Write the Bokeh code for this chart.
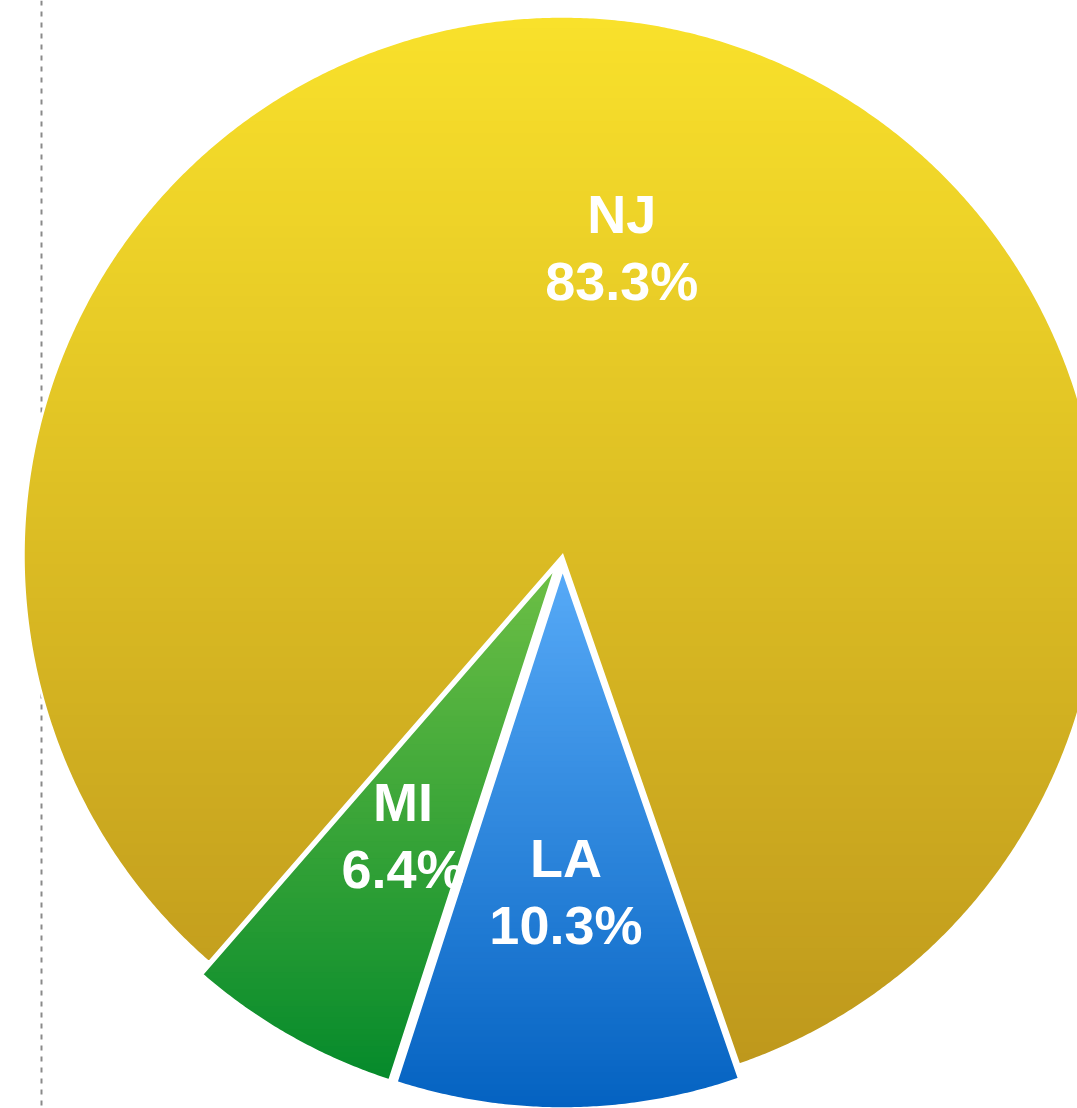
import numpy as np
from bokeh.plotting import figure
from bokeh.models import Range1d, Span, ColumnDataSource
from bokeh.core.properties import value
from bokeh.embed import file_html
from bokeh.resources import INLINE

# ---------------- data ----------------
states = ["NJ", "LA", "MI"]
shares = [83.3, 10.3, 6.4]
sliced = [False, True, True]

# ---------------- style / layout ----------------
top_colors = ["#F9E12B", "#57AAF7", "#6DBF45"]
bottom_colors = ["#BE981C", "#0462C1", "#058A2B"]
R = 539.0                 # pie radius (px)
START_DEG = 221.0         # clockwise from 12 o'clock
SLICE_OFFSET = 14.0
LABEL_R = [0.58, 0.60, 0.575]
FONT_SIZE = "54px"
W, H = 1077, 1108
CX, CY = 562, 555          # pie centre in picture pixels
N_LEVELS = 90


def hex2rgb(h):
    h = h.lstrip("#")
    return np.array([int(h[i:i + 2], 16) for i in (0, 2, 4)], dtype=float)


def mix(c1, c2, f):
    a, b = hex2rgb(c1), hex2rgb(c2)
    c = a + (b - a) * f
    return "#%02x%02x%02x" % tuple(int(round(v)) for v in c)


def clip_below(xs, ys, t):
    ox, oy = [], []
    n = len(xs)
    for i in range(n):
        x1, y1 = xs[i], ys[i]
        x2, y2 = xs[(i + 1) % n], ys[(i + 1) % n]
        in1, in2 = y1 <= t, y2 <= t
        if in1:
            ox.append(x1)
            oy.append(y1)
        if in1 != in2:
            f = (t - y1) / (y2 - y1)
            ox.append(x1 + f * (x2 - x1))
            oy.append(t)
    return ox, oy


p = figure(width=W, height=H,
           x_range=Range1d(-CX, W - CX),
           y_range=Range1d(CY - H, CY),
           output_backend="svg", toolbar_location=None,
           x_axis_location=None, y_axis_location=None,
           min_border=0, title=None)
p.grid.visible = False
p.outline_line_color = None
p.background_fill_color = "white"
p.border_fill_color = "white"

# dotted vertical line behind the pie
p.add_layout(Span(location=41 - CX, dimension="height", line_color="#8a8a8a",
                  line_width=2, line_dash="5 6", level="underlay"))

total = float(sum(shares))
a0 = START_DEG
outline_xs, outline_ys = [], []
label_x, label_y = [], []
for i, (st, sh) in enumerate(zip(states, shares)):
    span = 360.0 * sh / total
    a1 = a0 + span
    mid = np.radians((a0 + a1) / 2.0)
    off = SLICE_OFFSET if sliced[i] else 0.0
    cx, cy = off * np.sin(mid), off * np.cos(mid)
    th = np.radians(np.linspace(a0, a1, max(30, int(span * 3))))
    xs = [cx] + list(cx + R * np.sin(th))
    ys = [cy] + list(cy + R * np.cos(th))
    top, bot = max(ys), min(ys)
    fx, fy, fc = [], [], []
    for k in range(N_LEVELS):
        t = top - (top - bot) * k / N_LEVELS
        if k == 0:
            px, py = xs, ys
        else:
            px, py = clip_below(xs, ys, t)
        if len(px) < 3:
            continue
        fx.append(px)
        fy.append(py)
        fc.append(mix(top_colors[i], bottom_colors[i], (k + 0.5) / N_LEVELS))
    p.patches(xs="xs", ys="ys", fill_color="c", line_color=None,
              source=ColumnDataSource(dict(xs=fx, ys=fy, c=fc)))
    outline_xs.append(xs)
    outline_ys.append(ys)
    label_x.append(cx + LABEL_R[i] * R * np.sin(mid))
    label_y.append(cy + LABEL_R[i] * R * np.cos(mid))
    a0 = a1

p.patches(xs=outline_xs, ys=outline_ys, fill_color=None, line_color="white",
          line_width=2.5, line_join="miter")

src = ColumnDataSource(dict(x=label_x, y=label_y, name=states,
                            pct=["%.1f%%" % v for v in shares]))
common = dict(text_font=value("Liberation Sans"), text_font_style="bold",
              text_font_size=FONT_SIZE, text_color="white", text_align="center",
              text_baseline="alphabetic", source=src)
p.text(x="x", y="y", text="name", y_offset=-35, **common)
p.text(x="x", y="y", text="pct", y_offset=32, **common)

open("out.html", "w").write(file_html(p, INLINE))
